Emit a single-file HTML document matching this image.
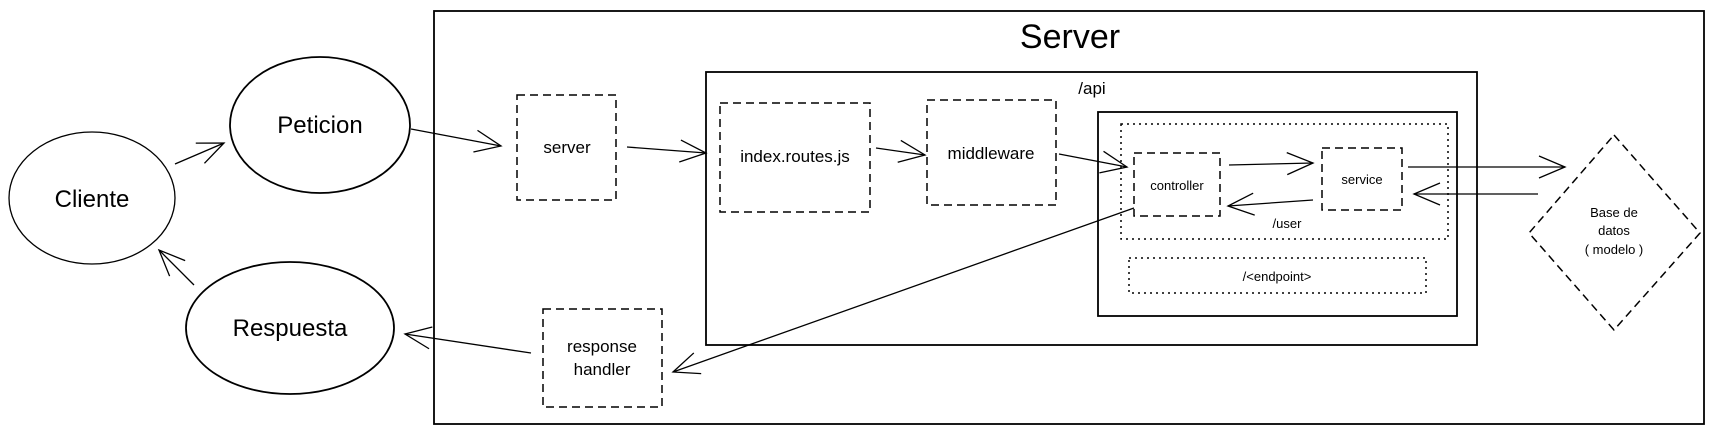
<!DOCTYPE html>
<html><head><meta charset="utf-8"><style>
html,body{margin:0;padding:0;background:#fff;}
svg{display:block;}
text{font-family:"Liberation Sans",sans-serif;fill:#000;}
</style></head><body>
<svg width="1716" height="435" viewBox="0 0 1716 435" xmlns="http://www.w3.org/2000/svg">
<defs>
<marker id="a" markerWidth="30" markerHeight="30" refX="28" refY="15" orient="auto" markerUnits="userSpaceOnUse">
<polyline points="2,4 28,15 2,26" fill="none" stroke="#000" stroke-width="1.3"/>
</marker>
</defs>
<rect width="1716" height="435" fill="#fff"/>
<g fill="none" stroke="#000">
<!-- Server box -->
<rect x="434" y="11" width="1270" height="413" stroke-width="1.8"/>
<rect x="706" y="72" width="771" height="273" stroke-width="1.8"/>
<rect x="1098" y="112" width="359" height="204" stroke-width="1.8"/>
<rect x="1121" y="124" width="327" height="115" stroke-width="1.5" stroke-dasharray="2,4"/>
<rect x="1129" y="258" width="297" height="35" stroke-width="1.5" stroke-dasharray="2,4"/>
<!-- dashed boxes -->
<g stroke-width="1.5" stroke-dasharray="8,5">
<rect x="517" y="95" width="99" height="105"/>
<rect x="720" y="103" width="150" height="109"/>
<rect x="927" y="100" width="129" height="105"/>
<rect x="543" y="309" width="119" height="98"/>
<rect x="1134" y="153" width="86" height="63"/>
<rect x="1322" y="148" width="80" height="62"/>
<polygon points="1614,135 1700,233 1614,330 1529,233"/>
</g>
<!-- ellipses -->
<ellipse cx="92" cy="198" rx="83" ry="66" stroke-width="1.3"/>
<ellipse cx="320" cy="125" rx="90" ry="68" stroke-width="1.8"/>
<ellipse cx="290" cy="328" rx="104" ry="66" stroke-width="1.8"/>
<!-- arrows -->
<g stroke-width="1.3" marker-end="url(#a)">
<line x1="175" y1="164" x2="224" y2="143"/>
<line x1="411" y1="129" x2="501" y2="146"/>
<line x1="627" y1="147" x2="706" y2="153"/>
<line x1="876" y1="148" x2="925" y2="155"/>
<line x1="1059" y1="154" x2="1127" y2="167"/>
<line x1="1229" y1="165" x2="1313" y2="163"/>
<line x1="1313" y1="200" x2="1228" y2="206"/>
<line x1="1408" y1="167" x2="1565" y2="167"/>
<line x1="1538" y1="194" x2="1414" y2="194"/>
<line x1="1134" y1="208" x2="673" y2="372"/>
<line x1="531" y1="353" x2="405" y2="334"/>
<line x1="194" y1="285" x2="159" y2="250"/>
</g>
</g>
<text x="1070" y="48" font-size="34" text-anchor="middle">Server</text>
<text x="1092" y="94" font-size="17" text-anchor="middle">/api</text>
<text x="92" y="207" font-size="24" text-anchor="middle">Cliente</text>
<text x="320" y="133" font-size="24" text-anchor="middle">Peticion</text>
<text x="290" y="336" font-size="24" text-anchor="middle">Respuesta</text>
<text x="567" y="153" font-size="17" text-anchor="middle">server</text>
<text x="795" y="162" font-size="17" text-anchor="middle">index.routes.js</text>
<text x="991" y="159" font-size="17" text-anchor="middle">middleware</text>
<text x="602" y="352" font-size="17" text-anchor="middle">response</text>
<text x="602" y="375" font-size="17" text-anchor="middle">handler</text>
<text x="1177" y="190" font-size="13" text-anchor="middle">controller</text>
<text x="1362" y="184" font-size="13" text-anchor="middle">service</text>
<text x="1287" y="228" font-size="13" text-anchor="middle">/user</text>
<text x="1277" y="281" font-size="13" text-anchor="middle">/&lt;endpoint&gt;</text>
<text x="1614" y="217" font-size="13" text-anchor="middle">Base de</text>
<text x="1614" y="235" font-size="13" text-anchor="middle">datos</text>
<text x="1614" y="254" font-size="13" text-anchor="middle">( modelo )</text>
</svg>
</body></html>
